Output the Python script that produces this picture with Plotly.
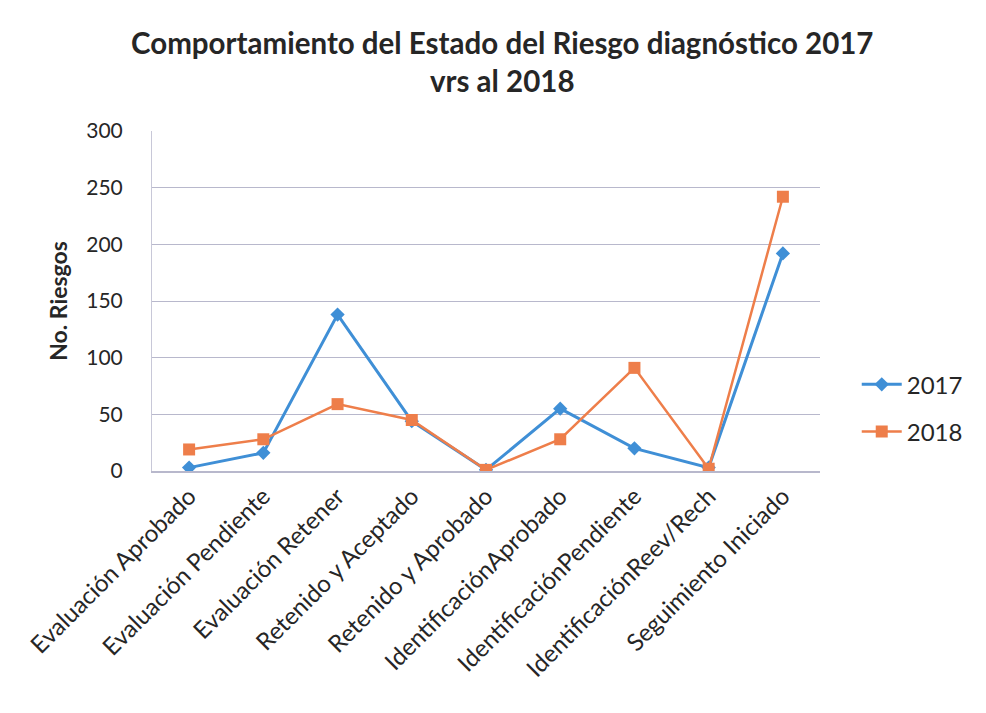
import plotly.graph_objects as go

categories = ["Evaluación Aprobado", "Evaluación Pendiente", "Evaluación Retener",
              "Retenido y Aceptado", "Retenido y Aprobado", "IdentificaciónAprobado",
              "IdentificaciónPendiente", "IdentificaciónReev/Rech", "Seguimiento Iniciado"]
values_2017 = [3, 16, 138, 44, 1, 55, 20, 3, 192]
values_2018 = [19, 28, 59, 45, 1, 28, 91, 2, 242]
y_ticks = [0, 50, 100, 150, 200, 250, 300]

FONT = "Lato"
TEXT = "#262626"

fig = go.Figure()
fig.add_trace(go.Scatter(x=categories, y=values_2017, name="2017", mode="lines+markers",
                         legendgroup="a",
                         line=dict(color="#3F8FD6", width=3),
                         marker=dict(symbol="diamond", size=11, color="#3F8FD6")))
fig.add_trace(go.Scatter(x=categories, y=values_2018, name="2018", mode="lines+markers",
                         legendgroup="b",
                         line=dict(color="#EE7E4A", width=2.5),
                         marker=dict(symbol="square", size=12, color="#EE7E4A")))

fig.add_annotation(
    text="<b>Comportamiento del Estado del Riesgo diagnóstico 2017<br>vrs al 2018</b>",
    xref="paper", yref="paper", x=0.524, y=1.205, xanchor="center", yanchor="middle",
    showarrow=False, font=dict(size=29.5, family=FONT, color=TEXT))

# faint chart border on the left edge (as in the scanned original)
fig.add_shape(type="line", xref="paper", yref="paper", x0=-0.22, x1=-0.22,
              y0=-0.72, y1=1.4, line=dict(color="#C4C4CC", width=1, dash="dot"))

fig.update_layout(
    width=978, height=705,
    margin=dict(l=144, r=166, t=123, b=242),
    paper_bgcolor="white", plot_bgcolor="white",
    font=dict(family=FONT, color=TEXT),
    xaxis=dict(type="category", range=[-0.5, 8.5], tickangle=-45,
               tickfont=dict(size=24, family=FONT, color=TEXT),
               showgrid=False, showline=True, linecolor="#B8B8CC", linewidth=1.5,
               ticks="", zeroline=False),
    yaxis=dict(range=[0, 300], tickvals=y_ticks, ticks="",
               tickfont=dict(size=21, family=FONT, color=TEXT),
               showgrid=True, gridcolor="#B8B8CC", gridwidth=1.2,
               showline=True, linecolor="#C8C8D8", linewidth=1,
               zeroline=False, ticklabelstandoff=24,
               title=dict(text="<b>No. Riesgos</b>", font=dict(size=23, family=FONT, color=TEXT),
                          standoff=12)),
    legend=dict(x=1.055, xanchor="left", y=0.32, yanchor="top",
                font=dict(size=24, family=FONT, color=TEXT),
                tracegroupgap=13, itemwidth=40, bgcolor="rgba(0,0,0,0)"),
)

fig.write_html("out.html")
